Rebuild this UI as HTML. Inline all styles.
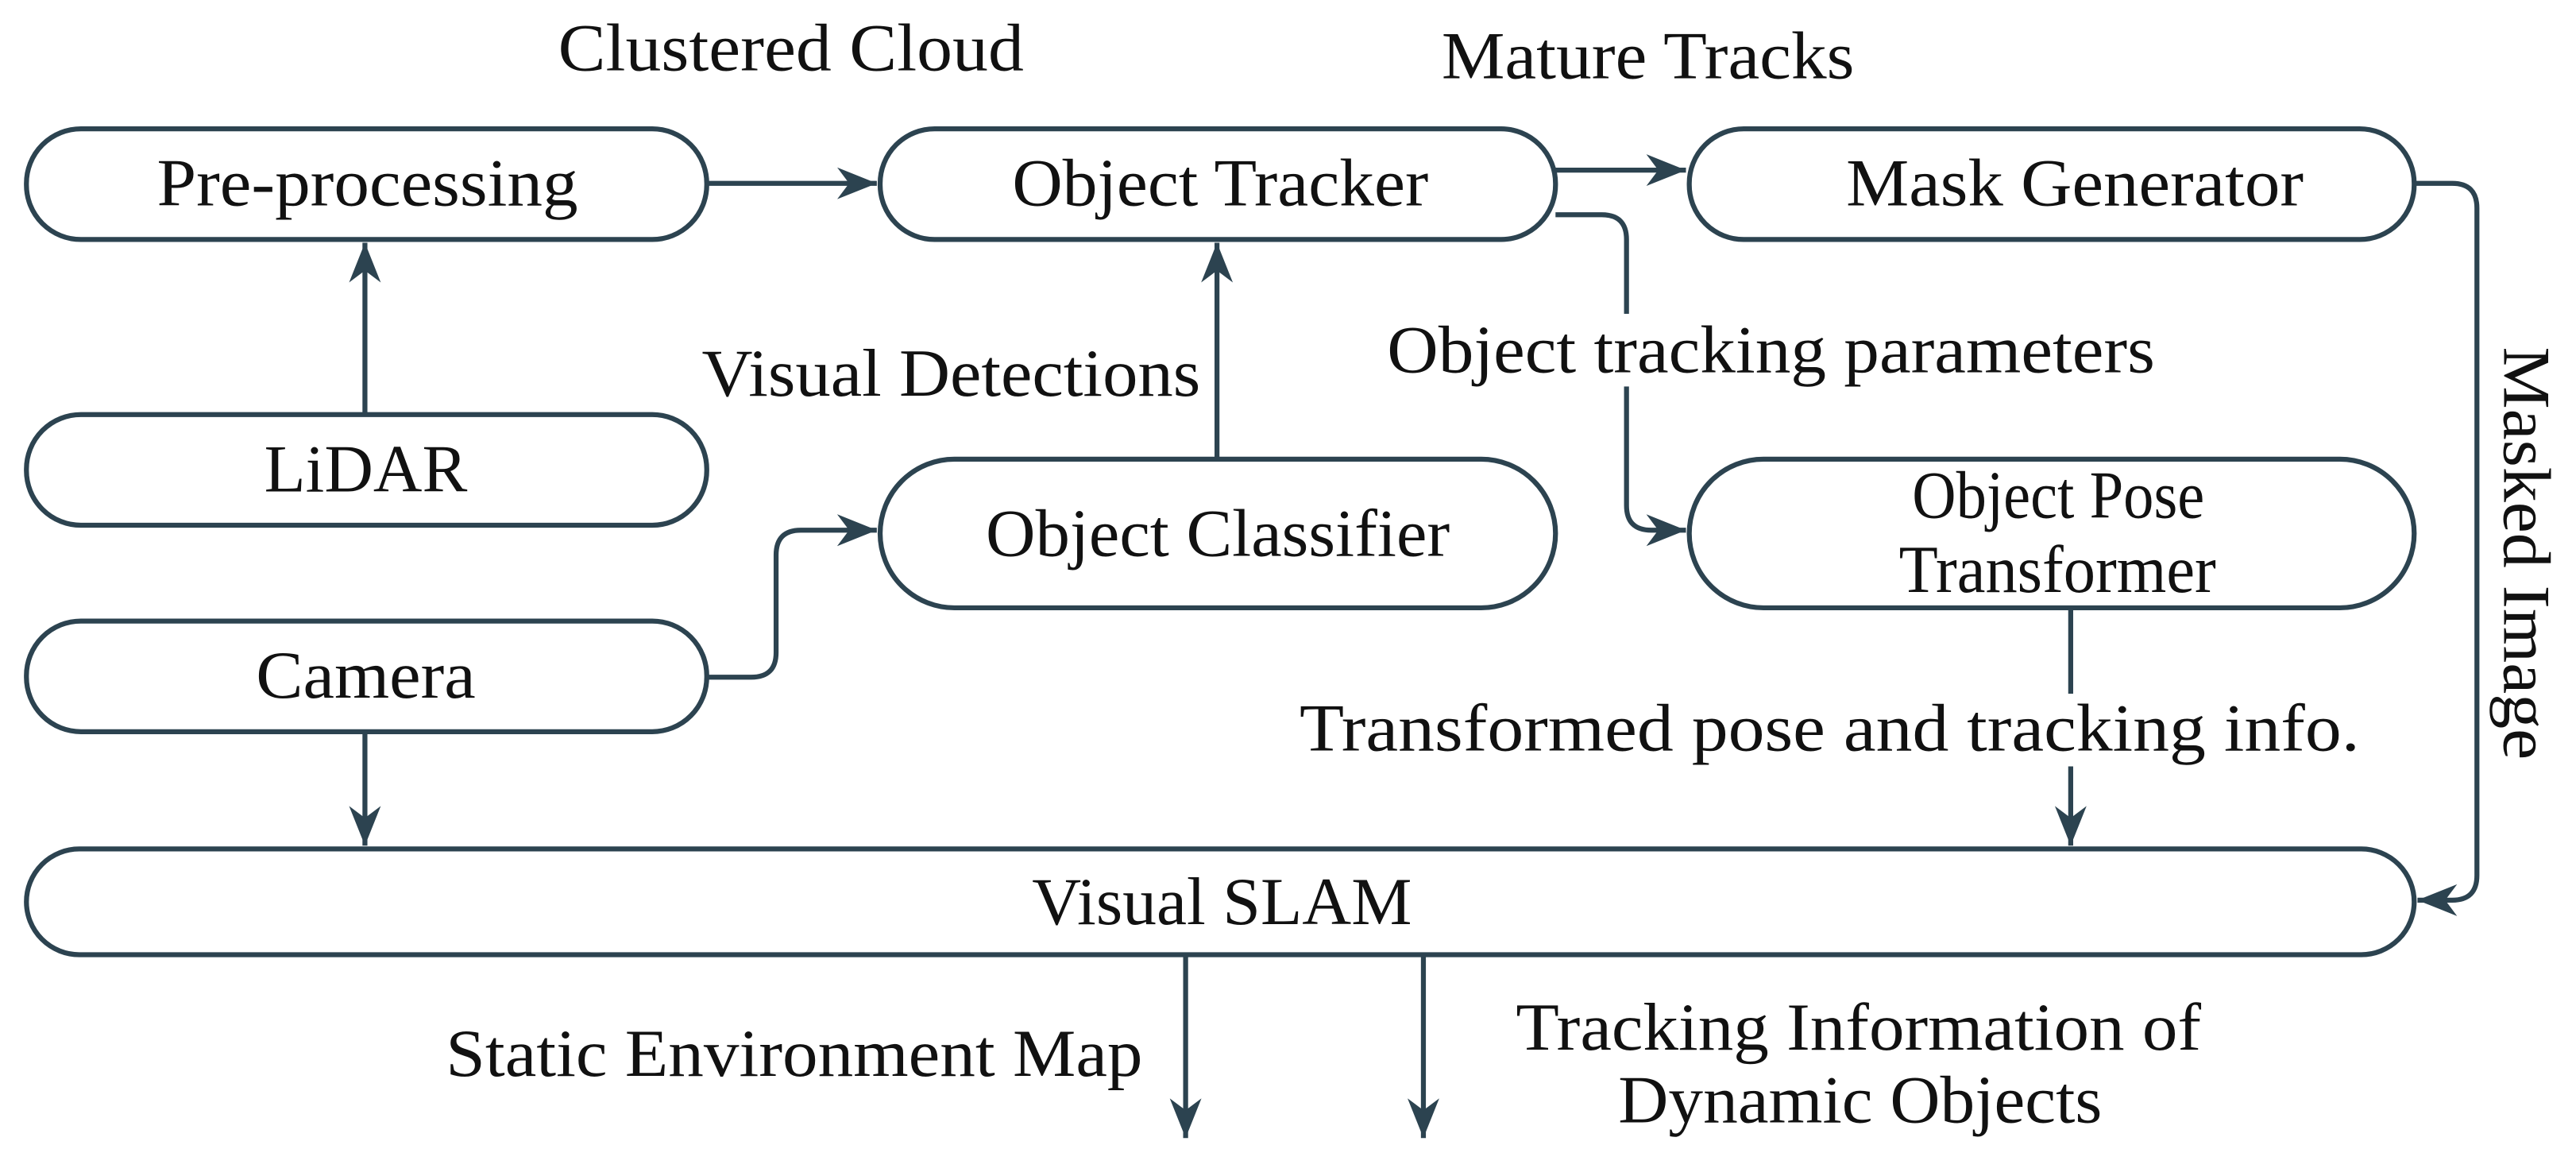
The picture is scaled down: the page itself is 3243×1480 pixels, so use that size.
<!DOCTYPE html>
<html><head><meta charset="utf-8"><style>
html,body{margin:0;padding:0;background:#fff;width:3243px;height:1480px;overflow:hidden}
text{font-family:"Liberation Serif",serif;font-size:41px;fill:#111;dominant-baseline:central;text-anchor:start}
</style></head><body>
<svg width="3243" height="1480" viewBox="0 0 1560 712" preserveAspectRatio="none" xmlns="http://www.w3.org/2000/svg">
<defs>
<marker id="b" viewBox="0 0 10 10" refX="10" refY="5" markerWidth="24" markerHeight="24" orient="auto" markerUnits="userSpaceOnUse"><path d="M0,1 L10,5 L0,9 L3,5 z" fill="#2c4350"/></marker></defs>
<g fill="none" stroke="#2c4350" stroke-width="3">
<rect x="16" y="78" width="412" height="67" rx="33"/>
<rect x="533" y="78" width="409" height="67" rx="33"/>
<rect x="1023" y="78" width="439" height="67" rx="33"/>
<rect x="16" y="251" width="412" height="67" rx="33"/>
<rect x="533" y="278" width="409" height="90" rx="45"/>
<rect x="1023" y="278" width="439" height="90" rx="45"/>
<rect x="16" y="376" width="412" height="67" rx="33"/>
<rect x="16" y="514" width="1446" height="64" rx="32"/>
<g marker-end="url(#b)">
<path d="M428,111 H531"/>
<path d="M221,250 V147"/>
<path d="M737,277 V147"/>
<path d="M428,410 H455 Q470,410 470,395 V336 Q470,321 485,321 H531"/>
<path d="M221,443 V512"/>
<path d="M942,103 H1021"/>
<path d="M942,130 H970 Q985,130 985,145 V306 Q985,321 1000,321 H1021"/>
<path d="M1254,368 V512"/>
<path d="M1462,111 H1485 Q1500,111 1500,126 V530 Q1500,545 1485,545 H1464"/>
<path d="M718,578 V689"/>
<path d="M862,578 V689"/>
</g></g>
<rect x="975" y="190" width="20" height="44" fill="#fff"/>
<rect x="1244" y="420" width="20" height="44" fill="#fff"/>
<g lengthAdjust="spacingAndGlyphs">
<text x="95" y="111" textLength="255" lengthAdjust="spacingAndGlyphs">Pre-processing</text>
<text x="613" y="111" textLength="252" lengthAdjust="spacingAndGlyphs">Object Tracker</text>
<text x="1118" y="111" textLength="277" lengthAdjust="spacingAndGlyphs">Mask Generator</text>
<text x="160" y="284" textLength="123" lengthAdjust="spacingAndGlyphs">LiDAR</text>
<text x="597" y="323" textLength="281" lengthAdjust="spacingAndGlyphs">Object Classifier</text>
<text x="155" y="409" textLength="133" lengthAdjust="spacingAndGlyphs">Camera</text>
<text x="1158" y="300" textLength="177" lengthAdjust="spacingAndGlyphs">Object Pose</text>
<text x="1150" y="345" textLength="192" lengthAdjust="spacingAndGlyphs">Transformer</text>
<text x="625" y="546" textLength="230" lengthAdjust="spacingAndGlyphs">Visual SLAM</text>
<text x="338" y="29" textLength="282" lengthAdjust="spacingAndGlyphs">Clustered Cloud</text>
<text x="873" y="34" textLength="250" lengthAdjust="spacingAndGlyphs">Mature Tracks</text>
<text x="425" y="226" textLength="302" lengthAdjust="spacingAndGlyphs">Visual Detections</text>
<text x="840" y="212" textLength="465" lengthAdjust="spacingAndGlyphs">Object tracking parameters</text>
<text x="787" y="441" textLength="642" lengthAdjust="spacingAndGlyphs">Transformed pose and tracking info.</text>
<text x="270" y="638" textLength="422" lengthAdjust="spacingAndGlyphs">Static Environment Map</text>
<text x="918" y="622" textLength="415" lengthAdjust="spacingAndGlyphs">Tracking Information of</text>
<text x="980" y="666" textLength="293" lengthAdjust="spacingAndGlyphs">Dynamic Objects</text>
<text transform="translate(1530,210) rotate(90)" x="0" y="0" textLength="250" lengthAdjust="spacingAndGlyphs">Masked Image</text>
</g>
</svg>
</body></html>
